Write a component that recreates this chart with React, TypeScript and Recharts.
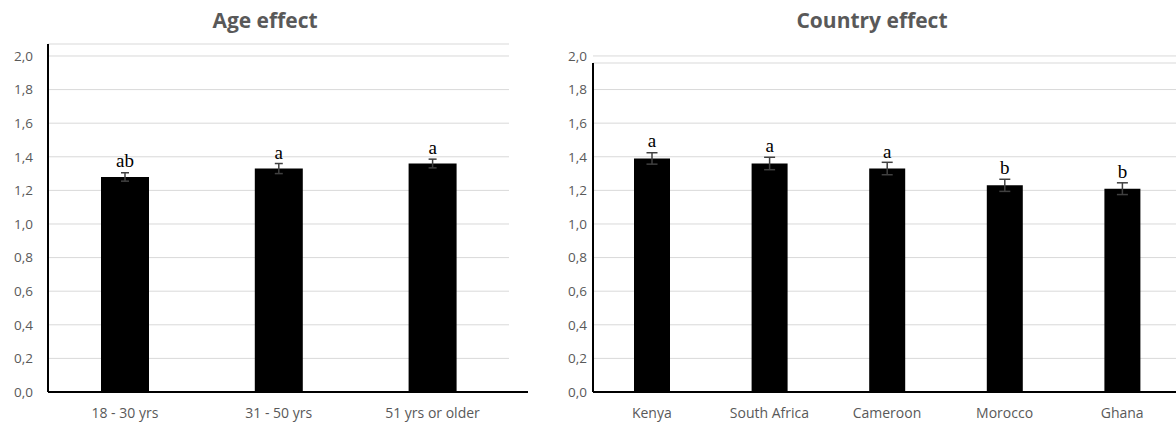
import React from 'react';
import {
  BarChart,
  Bar,
  XAxis,
  YAxis,
  CartesianGrid,
  ErrorBar,
  LabelList,
  ReferenceLine,
} from 'recharts';

const ageGroups = ['18 - 30 yrs', '31 - 50 yrs', '51 yrs or older'];
const ageMeans = [1.28, 1.33, 1.36];
const ageErrors = [0.025, 0.03, 0.026];
const ageLetters = ['ab', 'a', 'a'];

const countries = ['Kenya', 'South Africa', 'Cameroon', 'Morocco', 'Ghana'];
const countryMeans = [1.39, 1.36, 1.33, 1.23, 1.21];
const countryErrors = [0.034, 0.037, 0.037, 0.036, 0.035];
const countryLetters = ['a', 'a', 'a', 'b', 'b'];

const leftTicks = [0, 0.2, 0.4, 0.6, 0.8, 1.0, 1.2, 1.4, 1.6, 1.8, 2.0];
const rightTicks = [0, 0.2, 0.4, 0.6, 0.8, 1.0, 1.2, 1.4, 1.6, 1.8];

const ageData = ageGroups.map((name, i) => ({
  name,
  mean: ageMeans[i],
  err: ageErrors[i],
  letter: ageLetters[i],
}));

const countryData = countries.map((name, i) => ({
  name,
  mean: countryMeans[i],
  err: countryErrors[i],
  letter: countryLetters[i],
}));

const GRAY = '#595959';
const GRID = '#d9d9d9';
const SANS = '"Open Sans", "Liberation Sans", sans-serif';
const SERIF = '"Liberation Serif", "DejaVu Serif", serif';

const fmt = (v: number) => v.toFixed(1).replace('.', ',');

const yTickStyle = { fill: GRAY, fontSize: 13.5, fontFamily: SANS };
const xTickStyle = { fill: GRAY, fontSize: 14, fontFamily: SANS };

const titleStyle: React.CSSProperties = {
  position: 'absolute',
  top: 5,
  width: 300,
  textAlign: 'center',
  fontFamily: SANS,
  fontWeight: 700,
  fontSize: 21,
  color: GRAY,
  lineHeight: '30px',
};

export default function App() {
  return (
    <div
      style={{
        position: 'absolute',
        left: 0,
        top: 0,
        width: 1176,
        height: 423,
        background: '#fff',
        overflow: 'hidden',
      }}
    >
      <div style={{ ...titleStyle, left: 265 - 150 }}>Age effect</div>
      <div style={{ ...titleStyle, left: 872 - 150 }}>Country effect</div>

      {/* Age effect */}
      <div style={{ position: 'absolute', left: 0, top: 0 }}>
        <BarChart
          width={540}
          height={423}
          data={ageData}
          margin={{ top: 44, right: 12, left: 0, bottom: 1 }}
        >
          <CartesianGrid vertical={false} stroke={GRID} x={48} width={461} />
          <XAxis
            dataKey="name"
            padding={{ left: 0, right: 18.6 }}
            tickLine={false}
            tickMargin={10}
            axisLine={{ stroke: '#000', strokeWidth: 2 }}
            tick={xTickStyle}
          />
          <YAxis
            width={48}
            domain={[0, 2.0714]}
            ticks={leftTicks}
            tickFormatter={fmt}
            tickLine={false}
            tickMargin={9}
            axisLine={{ stroke: '#000', strokeWidth: 2 }}
            tick={yTickStyle}
          />
          <Bar dataKey="mean" fill="#000" barSize={48} isAnimationActive={false}>
            <ErrorBar
              dataKey="err"
              direction="y"
              width={4}
              stroke="#404040"
              strokeWidth={1.5}
              isAnimationActive={false}
            />
            <LabelList
              dataKey="letter"
              position="top"
              offset={10}
              fill="#000"
              fontSize={19}
              fontFamily={SERIF}
            />
          </Bar>
        </BarChart>
      </div>

      {/* Country effect */}
      <div style={{ position: 'absolute', left: 540, top: 0 }}>
        <BarChart
          width={641}
          height={423}
          data={countryData}
          margin={{ top: 63, right: 0, left: 0, bottom: 1 }}
        >
          <CartesianGrid vertical={false} stroke={GRID} />
          <ReferenceLine
            y={2}
            ifOverflow="visible"
            stroke={GRID}
            label={{
              value: '2,0',
              position: 'left',
              offset: 6,
              fill: GRAY,
              fontSize: 13.5,
              fontFamily: SANS,
            }}
          />
          <XAxis
            dataKey="name"
            tickLine={false}
            tickMargin={10}
            axisLine={{ stroke: '#000', strokeWidth: 2 }}
            tick={xTickStyle}
          />
          <YAxis
            width={53}
            domain={[0, 1.958]}
            ticks={rightTicks}
            tickFormatter={fmt}
            tickLine={false}
            tickMargin={0}
            axisLine={{ stroke: '#000', strokeWidth: 2 }}
            tick={yTickStyle}
          />
          <Bar dataKey="mean" fill="#000" barSize={36} isAnimationActive={false}>
            <ErrorBar
              dataKey="err"
              direction="y"
              width={5.5}
              stroke="#404040"
              strokeWidth={1.5}
              isAnimationActive={false}
            />
            <LabelList
              dataKey="letter"
              position="top"
              offset={11}
              fill="#000"
              fontSize={19}
              fontFamily={SERIF}
            />
          </Bar>
        </BarChart>
      </div>
    </div>
  );
}
